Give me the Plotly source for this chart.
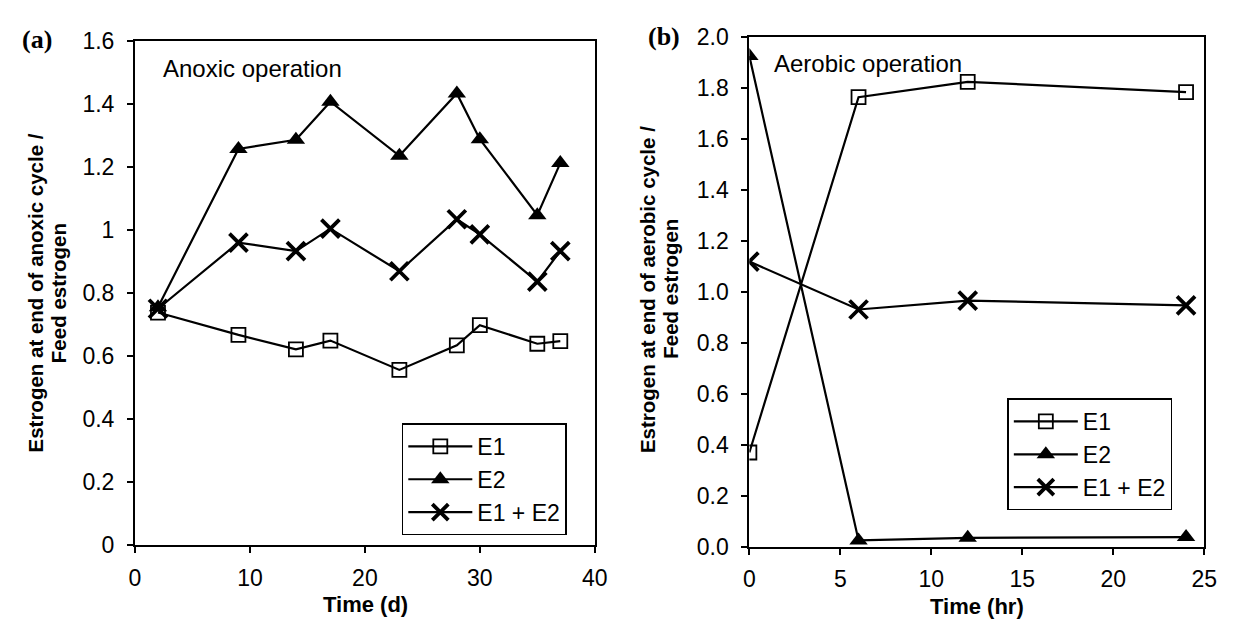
import plotly.graph_objects as go

# ---------------- data ----------------
# Panel (a): anoxic operation
t_anoxic = [2, 9, 14, 17, 23, 28, 30, 35, 37]
e1_anoxic = [0.738, 0.667, 0.621, 0.649, 0.556, 0.634, 0.698, 0.639, 0.647]
e2_anoxic = [0.755, 1.257, 1.286, 1.407, 1.235, 1.433, 1.288, 1.047, 1.212]
sum_anoxic = [0.750, 0.960, 0.933, 1.004, 0.869, 1.034, 0.986, 0.836, 0.933]

# Panel (b): aerobic operation
t_aerobic = [0, 6, 12, 24]
e1_aerobic = [0.370, 1.764, 1.824, 1.784]
e2_aerobic = [1.925, 0.025, 0.035, 0.038]
sum_aerobic = [1.119, 0.931, 0.966, 0.947]

series_names = ["E1", "E2", "E1 + E2"]
x_ticks_a = [0, 10, 20, 30, 40]
y_ticks_a = [0, 0.2, 0.4, 0.6, 0.8, 1.0, 1.2, 1.4, 1.6]
y_ticklabels_a = ["0", "0.2", "0.4", "0.6", "0.8", "1", "1.2", "1.4", "1.6"]
x_ticks_b = [0, 5, 10, 15, 20, 25]
y_ticks_b = [0, 0.2, 0.4, 0.6, 0.8, 1.0, 1.2, 1.4, 1.6, 1.8, 2.0]

# ---------------- styling ----------------
W, H = 1233, 632
FONT = "Liberation Sans, Arial, sans-serif"
TICK_SIZE = 23
LEG_SIZE = 23
TITLE_SIZE = 22
YTITLE_SIZE = 20.5
BLACK = "#000000"

marker_styles = [
    dict(symbol="square-open", size=14, color=BLACK, line=dict(width=1.8, color=BLACK)),
    dict(symbol="triangle-up", size=16, color=BLACK, line=dict(width=0, color=BLACK)),
    dict(symbol="x-thin", size=18, color=BLACK, line=dict(width=3.8, color=BLACK)),
]


def px_x(px):
    return px / W


def px_y(py):
    return 1 - py / H


fig = go.Figure()

panels = [
    (t_anoxic, [e1_anoxic, e2_anoxic, sum_anoxic], "x", "y", "legend"),
    (t_aerobic, [e1_aerobic, e2_aerobic, sum_aerobic], "x2", "y2", "legend2"),
]
for t, ys, xa, ya, leg in panels:
    for i, (name, yv) in enumerate(zip(series_names, ys)):
        fig.add_trace(go.Scatter(
            x=t, y=yv, name=name, mode="lines+markers",
            line=dict(color=BLACK, width=2.2),
            marker=marker_styles[i],
            xaxis=xa, yaxis=ya, legend=leg,
            legendgroup=f"{leg}_{i}",
        ))

axis_common = dict(
    showline=True, linecolor=BLACK, linewidth=2, mirror=True,
    ticks="outside", ticklen=6, tickwidth=1.5, tickcolor=BLACK,
    showgrid=False, zeroline=False,
    tickfont=dict(family=FONT, size=TICK_SIZE, color=BLACK),
)

fig.update_layout(
    width=W, height=H,
    margin=dict(l=0, r=0, t=0, b=0),
    paper_bgcolor="white", plot_bgcolor="white",
    font=dict(family=FONT, color=BLACK),
    xaxis=dict(domain=[px_x(131), px_x(598)], range=[0, 40],
               tickvals=x_ticks_a, anchor="y", ticklabelstandoff=5, **axis_common),
    yaxis=dict(domain=[px_y(555), px_y(29)], range=[0, 1.6],
               tickvals=y_ticks_a, ticktext=y_ticklabels_a, anchor="x",
               ticklabelstandoff=8, **axis_common),
    xaxis2=dict(domain=[px_x(755), px_x(1217)], range=[0, 25],
                tickvals=x_ticks_b, anchor="y2", ticklabelstandoff=5, **axis_common),
    yaxis2=dict(domain=[px_y(556.7), px_y(25)], range=[0, 2.0],
                tickvals=y_ticks_b, tickformat=".1f", anchor="x2",
                ticklabelstandoff=8, **axis_common),
    legend=dict(x=px_x(402), y=px_y(428), xanchor="left", yanchor="top",
                bordercolor=BLACK, borderwidth=1.5, bgcolor="white",
                font=dict(family=FONT, size=LEG_SIZE, color=BLACK),
                itemwidth=64, tracegroupgap=2, traceorder="normal"),
    legend2=dict(x=px_x(1017), y=px_y(402), xanchor="left", yanchor="top",
                 bordercolor=BLACK, borderwidth=1.5, bgcolor="white",
                 font=dict(family=FONT, size=LEG_SIZE, color=BLACK),
                 itemwidth=64, tracegroupgap=5, traceorder="normal"),
    showlegend=True,
)

annotations = [
    # panel labels
    dict(text="<b>(a)</b>", x=px_x(31), y=px_y(28), size=26,
         family="Liberation Serif, Times New Roman, serif"),
    dict(text="<b>(b)</b>", x=px_x(668), y=px_y(25), size=26,
         family="Liberation Serif, Times New Roman, serif"),
    # x-axis titles
    dict(text="<b>Time (d)</b>", x=px_x(365), y=px_y(617), size=TITLE_SIZE, family=FONT),
    dict(text="<b>Time (hr)</b>", x=px_x(986), y=px_y(619), size=TITLE_SIZE, family=FONT),
    # y-axis titles (two lines each)
    dict(text="<b>Estrogen at end of anoxic cycle /</b>", x=px_x(30), y=px_y(292),
         angle=-90, size=YTITLE_SIZE, family=FONT),
    dict(text="<b>Feed estrogen</b>", x=px_x(54), y=px_y(292),
         angle=-90, size=YTITLE_SIZE, family=FONT),
    dict(text="<b>Estrogen at end of aerobic cycle /</b>", x=px_x(651), y=px_y(288),
         angle=-90, size=YTITLE_SIZE, family=FONT),
    dict(text="<b>Feed estrogen</b>", x=px_x(675), y=px_y(288),
         angle=-90, size=YTITLE_SIZE, family=FONT),
]
for a in annotations:
    fig.add_annotation(xref="paper", yref="paper", showarrow=False,
                       xanchor="center", yanchor="middle",
                       text=a["text"], x=a["x"], y=a["y"],
                       textangle=a.get("angle", 0),
                       font=dict(family=a["family"], size=a["size"], color=BLACK))

# in-plot labels
fig.add_annotation(text="Anoxic operation", xref="paper", yref="paper",
                   x=px_x(157), y=px_y(58), xanchor="left", yanchor="middle",
                   showarrow=False, font=dict(family=FONT, size=24, color=BLACK))
fig.add_annotation(text="Aerobic operation", xref="paper", yref="paper",
                   x=px_x(778), y=px_y(53), xanchor="left", yanchor="middle",
                   showarrow=False, font=dict(family=FONT, size=24, color=BLACK))

fig.write_html("out.html")
